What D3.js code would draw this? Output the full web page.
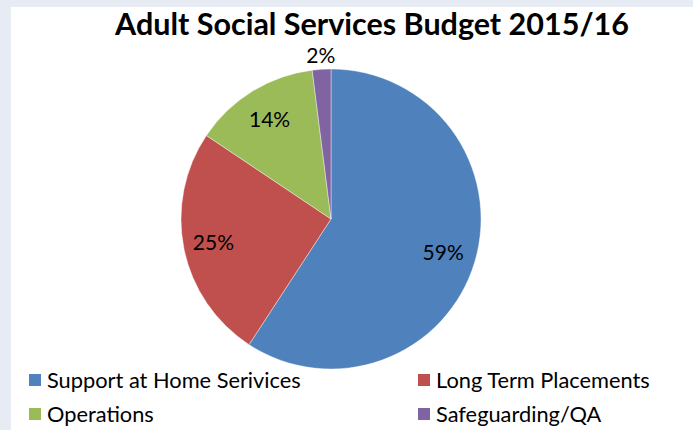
<!DOCTYPE html>
<html><head><meta charset="utf-8">
<script src="https://cdn.jsdelivr.net/npm/d3@7"></script>
<style>
html,body{margin:0;padding:0;background:#fff;}
svg{display:block;}
</style></head>
<body>
<svg id="chart" width="693" height="430"></svg>
<script>
const title = "Adult Social Services Budget 2015/16";
const categories = ["Support at Home Serivices", "Long Term Placements", "Operations", "Safeguarding/QA"];
const values = [59.2, 25.2, 13.6, 2.0];
const labels = ["59%", "25%", "14%", "2%"];
const colors = ["#4F81BD", "#C0504D", "#9BBB59", "#8064A2"];

const W = 693, H = 430;
const svg = d3.select("#chart");
const font = "Lato, 'Open Sans', sans-serif";

// frame background
svg.append("rect").attr("width", W).attr("height", H).attr("fill", "#E7ECF4");
svg.append("rect").attr("x", 11).attr("y", 7).attr("width", W - 11).attr("height", H - 7).attr("fill", "#fff");

svg.append("text").attr("x", 372).attr("y", 35).attr("text-anchor", "middle")
  .attr("font-family", font).attr("font-weight", "bold").attr("font-size", 30.5)
  .attr("fill", "#000").text(title);

const cx = 331, cy = 219, R = 150;
const pie = d3.pie().sort(null).value(d => d)(values);
const arc = d3.arc().innerRadius(0).outerRadius(R);
const g = svg.append("g").attr("transform", `translate(${cx},${cy})`);
g.selectAll("path").data(pie).join("path")
  .attr("d", arc).attr("fill", (d, i) => colors[i])
  .attr("stroke", "#fff").attr("stroke-width", 0.4);

const labelR = [0.78, 0.8, 0.78, 1.09];
g.selectAll("text.lbl").data(pie).join("text").attr("class", "lbl")
  .attr("transform", (d, i) => {
    const a = (d.startAngle + d.endAngle) / 2;
    const r = R * labelR[i];
    return `translate(${Math.sin(a) * r},${-Math.cos(a) * r})`;
  })
  .attr("text-anchor", "middle").attr("dy", "0.35em")
  .attr("font-family", font).attr("font-size", 21).attr("fill", "#000")
  .text((d, i) => labels[i]);

const legX = [29, 418], legY = [380, 414];
const leg = svg.append("g");
categories.forEach((c, i) => {
  const x = legX[i % 2], y = legY[Math.floor(i / 2)];
  leg.append("rect").attr("x", x).attr("y", y - 6).attr("width", 12).attr("height", 12).attr("fill", colors[i]);
  leg.append("text").attr("x", x + 18).attr("y", y).attr("dy", "0.35em")
    .attr("font-family", font).attr("font-size", 21.8).attr("fill", "#000").text(c);
});
</script>
</body></html>
